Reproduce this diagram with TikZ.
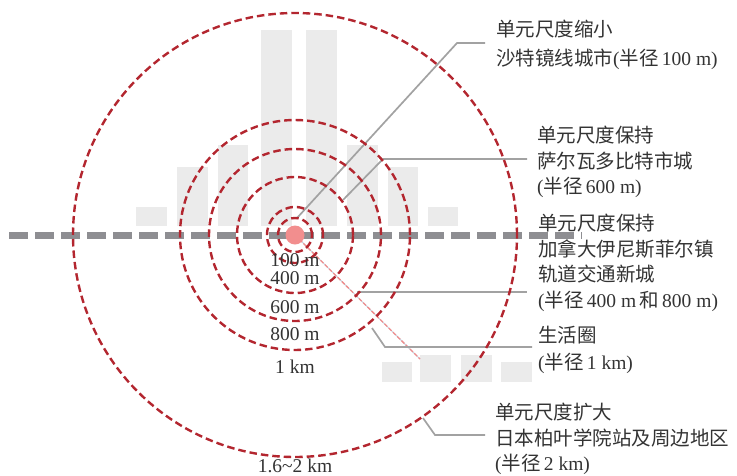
\documentclass[tikz,border=0pt]{standalone}
\usepackage{fontspec}
\setmainfont{Liberation Serif}
\newfontfamily\cjfont{Noto Sans CJK SC}
\newcommand{\zh}[1]{{\cjfont #1}}
\definecolor{ringred}{HTML}{B3262F}
\definecolor{barfill}{HTML}{EBEBEB}
\definecolor{railgray}{HTML}{8E8E92}
\definecolor{leadgray}{HTML}{A2A2A2}
\definecolor{dotpink}{HTML}{F28E8E}
\definecolor{diagpink}{HTML}{F08C8C}
\definecolor{diagblue}{HTML}{C8D4E0}
\definecolor{txt}{HTML}{333333}
\begin{document}
\begin{tikzpicture}[x=1pt,y=-1pt,
  ring/.style={draw=ringred, line width=2.4pt, dash pattern=on 7.5pt off 4pt},
  bar/.style={fill=barfill, draw=none},
  rail/.style={draw=railgray, line width=7pt, dash pattern=on 19pt off 7pt},
  lead/.style={draw=leadgray, line width=1.7pt},
  lab/.style={anchor=north west, inner sep=0pt, align=left, text=txt,
    font=\fontsize{19.5}{25.5}\selectfont},
  dist/.style={anchor=base, inner sep=0pt, text=txt,
    font=\fontsize{19.5}{23}\selectfont}]
\useasboundingbox (0,0) rectangle (737,475);
% background building bars
\fill[bar] (136,207) rectangle (167,226);
\fill[bar] (177,167) rectangle (208,226);
\fill[bar] (218,145) rectangle (248,226);
\fill[bar] (261,30) rectangle (292,226);
\fill[bar] (306,30) rectangle (337,226);
\fill[bar] (347,145) rectangle (378,226);
\fill[bar] (388,167) rectangle (418,226);
\fill[bar] (428,207) rectangle (458,226);
\fill[bar] (382,362) rectangle (412,382);
\fill[bar] (420,355) rectangle (451,382);
\fill[bar] (461,355) rectangle (492,382);
\fill[bar] (501,362) rectangle (532,382);
% rail line
\coordinate (c) at (295,235);
\coordinate (railW) at (9,235);
\coordinate (railE) at (582,235);
\draw[rail] (railW) -- (railE);
% diagonal pink line
\coordinate (diagEnd) at (420,359);
\draw[draw=diagblue, line width=1pt] (c) -- (diagEnd);
\draw[draw=diagpink, line width=1.3pt, dash pattern=on 4pt off 2pt] (c) -- (diagEnd);
% leader lines
\coordinate (s1) at (297,218); \coordinate (k1) at (457,43); \coordinate (e1) at (485,43);
\coordinate (s2) at (343,200); \coordinate (k2) at (383,159); \coordinate (e2) at (527,159);
\coordinate (s3) at (357,292); \coordinate (e3) at (527,292);
\coordinate (s4) at (372,328); \coordinate (k4) at (385,347); \coordinate (e4) at (532,347);
\coordinate (s5) at (423,418); \coordinate (k5) at (435,435); \coordinate (e5) at (485,435);
\draw[lead] (s1) -- (k1) -- (e1);
\draw[lead] (s2) -- (k2) -- (e2);
\draw[lead] (s3) -- (e3);
\draw[lead] (s4) -- (k4) -- (e4);
\draw[lead] (s5) -- (k5) -- (e5);
% rings
\draw[ring] (c) circle[radius=17pt];
\draw[ring] (c) circle[radius=28pt];
\draw[ring] (c) circle[radius=58pt];
\draw[ring] (c) circle[radius=86pt];
\draw[ring] (c) circle[radius=115pt];
\draw[ring] (c) circle[radius=222pt];
% centre dot
\fill[dotpink] (c) circle[radius=9.5pt];
% distance labels
\node[dist] (d100) at (295,266) {100 m};
\node[dist] (d400) at (295,284) {400 m};
\node[dist] (d600) at (295,313) {600 m};
\node[dist] (d800) at (295,340) {800 m};
\node[dist] (d1k) at (295,373) {1 km};
\node[dist, text depth=0pt] (d2k) at (295,472) {1.6\textasciitilde 2 km};
% right labels
\node[lab] (l1) at (496,20) {\zh{单元尺度缩小}\\[3pt]\zh{沙特镜线城市}(\zh{半径}\,100 m)};
\node[lab] (l2) at (537,126) {\zh{单元尺度保持}\\\zh{萨尔瓦多比特市城}\\(\zh{半径}\,600 m)};
\node[lab] (l3) at (538,214) {\zh{单元尺度保持}\\\zh{加拿大伊尼斯菲尔镇}\\\zh{轨道交通新城}\\(\zh{半径}\,400 m\,\zh{和}\,800 m)};
\node[lab] (l4) at (538,326) {\zh{生活圈}\\[1pt](\zh{半径}\,1 km)};
\node[lab] (l5) at (495,403) {\zh{单元尺度扩大}\\\zh{日本柏叶学院站及周边地区}\\(\zh{半径}\,2 km)};
\end{tikzpicture}
\end{document}
